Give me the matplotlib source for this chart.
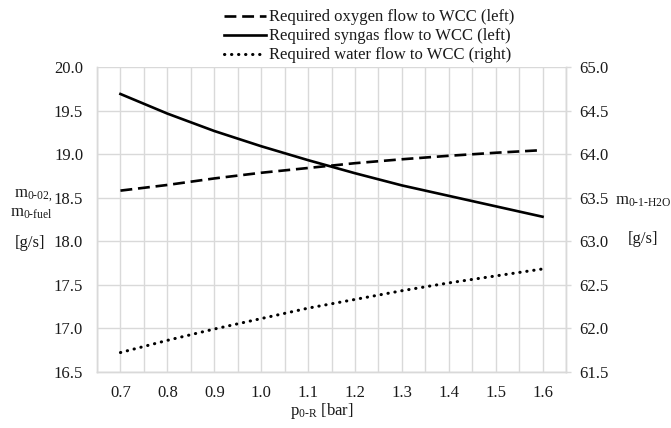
import matplotlib
matplotlib.use("Agg")
import matplotlib.pyplot as plt
import numpy as np

plt.rcParams['font.family'] = ['Liberation Serif', 'DejaVu Serif']
plt.rcParams['mathtext.fontset'] = 'custom'
plt.rcParams['mathtext.rm'] = 'Liberation Serif'
plt.rcParams['mathtext.it'] = 'Liberation Serif:italic'

# Reformer pressure [bar]
pressure = [0.7, 0.8, 0.9, 1.0, 1.1, 1.2, 1.3, 1.4, 1.5, 1.6]
# Required flows [g/s]
oxygen_flow = [18.58, 18.645, 18.72, 18.785, 18.84, 18.895, 18.94, 18.98, 19.015, 19.045]
syngas_flow = [19.69, 19.465, 19.265, 19.09, 18.93, 18.78, 18.64, 18.52, 18.40, 18.28]
water_flow = [61.72, 61.86, 61.99, 62.11, 62.23, 62.33, 62.43, 62.52, 62.60, 62.68]

left_ticks = [16.5, 17.0, 17.5, 18.0, 18.5, 19.0, 19.5, 20.0]
right_ticks = [61.5, 62.0, 62.5, 63.0, 63.5, 64.0, 64.5, 65.0]

W, H = 671, 428
fig = plt.figure(figsize=(W / 100, H / 100), dpi=100)
ax = fig.add_axes([97 / W, 1 - 371.7 / H, (566 - 97) / W, (371.7 - 67) / H])
ax2 = ax.twinx()

grid_c = '#d9d9d9'
text_c = '#1a1a1a'
fs = 12

ax.set_xlim(0.65, 1.65)
ax.set_ylim(left_ticks[0], left_ticks[-1])
ax2.set_ylim(right_ticks[0], right_ticks[-1])

# Gridlines at each category and between categories
for xv in np.arange(0.65, 1.651, 0.05):
    ax.axvline(xv, color=grid_c, lw=1.0, zorder=0)
for yv in left_ticks:
    ax.axhline(yv, color=grid_c, lw=1.0, zorder=0)

ax.set_xticks(pressure)
ax.set_xticklabels([f"{p:.1f}" for p in pressure])
ax.set_yticks(left_ticks)
ax.set_yticklabels([f"{v:.1f}" for v in left_ticks])
ax2.set_yticks(right_ticks)
ax2.set_yticklabels([f"{v:.1f}" for v in right_ticks])

ax.tick_params(axis='x', length=0, pad=9.5, labelsize=fs, labelcolor=text_c)
ax.tick_params(axis='y', length=0, pad=10, labelsize=fs, labelcolor=text_c)
ax2.tick_params(axis='y', length=3.6, width=1.0, color=grid_c, pad=6,
                labelsize=fs, labelcolor=text_c)

for a in (ax, ax2):
    for s in a.spines.values():
        s.set_color(grid_c)
        s.set_linewidth(1.0)
ax.spines['top'].set_visible(False)
ax2.spines['top'].set_visible(False)

l1, = ax.plot(pressure, oxygen_flow, color='black', lw=1.9,
              linestyle=(0, (4.5, 2.2)), label='Required oxygen flow to WCC (left)')
l2, = ax.plot(pressure, syngas_flow, color='black', lw=1.9,
              label='Required syngas flow to WCC (left)')
l3, = ax2.plot(pressure, water_flow, color='black', lw=2.2,
               linestyle=(0, (0.1, 2.2)), dash_capstyle='round',
               label='Required water flow to WCC (right)')

leg = fig.legend(handles=[l1, l2, l3], loc='upper left',
                 bbox_to_anchor=(221 / W, 1 - 6 / H), frameon=False,
                 fontsize=fs, handlelength=2.5, handletextpad=0.2,
                 labelspacing=0.18, borderaxespad=0, borderpad=0.2)
for t in leg.get_texts():
    t.set_color(text_c)

# Axis titles
fig.text(322 / W, 1 - 411 / H, r'p$_{\text{0-R}}$ [bar]', ha='center', va='center',
         fontsize=fs, color=text_c)
fig.text(33 / W, 1 - 196 / H, r'm$_{\text{0-02,}}$', ha='center', va='center',
         fontsize=fs, color=text_c)
fig.text(31 / W, 1 - 213 / H, r'm$_{\text{0-fuel}}$', ha='center', va='center',
         fontsize=fs, color=text_c)
fig.text(30 / W, 1 - 243 / H, '[g/s]', ha='center', va='center',
         fontsize=fs, color=text_c)
fig.text(643 / W, 1 - 201 / H, r'm$_{\text{0-1-H2O}}$', ha='center', va='center',
         fontsize=fs, color=text_c)
fig.text(643 / W, 1 - 239 / H, '[g/s]', ha='center', va='center',
         fontsize=fs, color=text_c)

fig.savefig('out.png', dpi=100)
